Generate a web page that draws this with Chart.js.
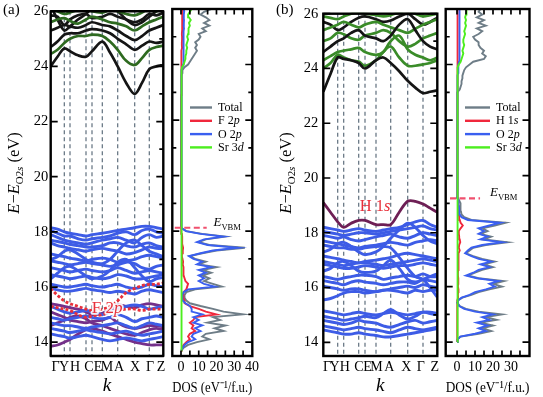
<!DOCTYPE html>
<html><head><meta charset="utf-8">
<script src="https://cdn.jsdelivr.net/npm/chart.js@4.4.0/dist/chart.umd.min.js"></script>
<style>
html,body{margin:0;padding:0;background:#fff;}
#wrap{position:relative;width:543px;height:397px;overflow:hidden;background:#fff;}
canvas{position:absolute;left:0;top:0;}
</style></head><body>
<div id="wrap">
<canvas id="bandA" width="543" height="397"></canvas>
<canvas id="dosA" width="543" height="397"></canvas>
<canvas id="bandB" width="543" height="397"></canvas>
<canvas id="dosB" width="543" height="397"></canvas>
</div>
<script>
// ---------- k-path ----------
const symLabels = ['Γ','Y','H','C','E','M','A','X','Γ','Z'];
const kSymA = [0,13.6,19.3,35.3,41.3,51.6,67,84,98.6,112.6];
const kLabA = [4.8,13.3,24.3,38.3,47.3,56.3,68.3,84.3,99.3,110.3];
const kGridA = [0,6.8,13.6,19.3,27.3,35.3,41.3,51.6,59.3,67,75.5,84,91.3,98.6,105.6,112.6];
const kSymB = [0,14.4,20.4,35.4,41.7,52.7,67.4,84.4,99.7,114];
const kLabB = [3.7,11.2,21.4,35.7,44.2,53.2,65.9,83,97.4,111.4];
const kGridB = [0,7.2,14.4,20.4,27.9,35.4,41.7,52.7,60,67.4,75.9,84.4,92,99.7,106.8,114];
const eTicks = [14,15,16,17,18,19,20,21,22,23,24,25,26];
const eLabels = [14,16,18,20,22,24,26];

// ---------- panel (a) bands ----------
const valA = [
 [18.15,18.1,18.0,17.95,17.9,17.85,17.9,17.95,18.0,18.05,18.1,18.15,18.2,18.2,18.15,18.1],
 [18.05,17.95,17.85,17.85,17.75,17.7,17.75,17.8,17.85,17.95,18.0,17.9,18.05,18.1,18.0,17.95],
 [17.9,17.8,17.7,17.65,17.6,17.55,17.6,17.7,17.75,17.8,17.7,17.6,17.8,17.9,17.8,17.85],
 [17.7,17.65,17.6,17.55,17.5,17.45,17.45,17.5,17.6,17.6,17.5,17.45,17.55,17.6,17.5,17.45],
 [17.6,17.5,17.45,17.4,17.35,17.3,17.35,17.4,17.35,17.3,17.2,17.25,17.35,17.45,17.4,17.4],
 [17.2,17.15,17.1,17.05,17.0,16.95,17.0,17.05,17.0,16.9,16.95,17.0,17.1,17.15,17.1,17.05],
 [16.95,16.9,16.85,16.8,16.85,16.9,16.85,16.8,16.75,16.8,16.9,16.85,16.7,16.65,16.75,16.8],
 [16.7,16.65,16.6,16.55,16.6,16.65,16.6,16.55,16.6,16.7,16.6,16.5,16.55,16.6,16.55,16.5],
 [16.45,16.4,16.35,16.3,16.35,16.4,16.35,16.3,16.35,16.45,16.4,16.3,16.3,16.35,16.4,16.45],
 [16.1,16.05,16.0,16.0,16.05,16.1,16.05,16.0,16.05,16.1,16.0,15.95,16.0,16.1,16.05,16.0],
 [15.95,15.9,15.85,15.85,15.9,15.95,15.9,15.85,15.8,15.85,15.8,15.75,15.85,15.9,15.85,15.8],
 [15.3,15.2,15.1,15.05,15.1,15.15,15.1,15.0,15.1,15.2,15.3,15.35,15.3,15.2,15.25,15.3],
 [14.9,14.85,14.8,14.85,14.9,14.95,14.9,14.85,14.9,15.0,14.9,14.75,14.85,14.9,14.95,14.9],
 [14.7,14.65,14.6,14.6,14.55,14.5,14.55,14.6,14.65,14.7,14.6,14.5,14.6,14.7,14.65,14.6],
 [14.5,14.45,14.4,14.35,14.4,14.45,14.4,14.35,14.3,14.35,14.4,14.3,14.25,14.3,14.35,14.4],
 [14.3,14.25,14.2,14.15,14.2,14.25,14.2,14.1,14.05,14.1,14.15,14.1,14.05,14.1,14.15,14.2],
 [17.0,17.1,17.3,17.35,17.2,17.0,16.9,16.85,17.0,17.3,17.6,17.7,17.5,17.3,17.2,17.1],
 [16.3,16.5,16.7,16.75,16.6,16.4,16.3,16.4,16.6,16.9,17.0,16.7,16.4,16.2,16.3,16.35]
];
const fDashA = [
 [15.95,15.7,15.5,15.4,15.3,15.2,15.15,15.2,15.3,15.5,15.8,15.95,16.05,16.1,16.1,16.15],
 [15.3,15.25,15.2,15.15,15.0,14.9,14.95,15.0,15.1,15.15,15.2,15.2,15.15,15.2,15.2,15.2]
];
const fMixA = [
 [15.1,15.0,14.9,14.8,14.75,14.7,14.75,14.8,14.9,14.7,14.55,14.5,14.55,14.6,14.6,14.55],
 [13.85,13.9,14.0,14.1,14.3,14.45,14.5,14.4,14.3,14.2,14.1,14.0,13.95,13.9,13.9,13.9],
 [15.4,15.35,15.3,15.25,15.2,15.1,15.0,15.05,15.2,15.35,15.3,15.25,15.35,15.4,15.35,15.3],
 [14.6,14.7,14.8,14.9,14.95,14.85,14.7,14.6,14.5,14.4,14.3,14.25,14.35,14.45,14.5,14.45]
];
const condA = [
 [24.0,24.35,24.65,24.55,24.4,24.35,24.55,24.9,24.5,24.0,23.4,23.0,23.4,23.9,24.0,24.05],
 [24.45,24.6,24.85,25.0,25.1,25.1,25.15,25.1,24.9,24.6,24.2,24.05,24.3,24.6,24.7,24.75],
 [24.7,24.9,25.15,25.2,25.2,25.3,25.35,25.3,25.2,25.0,24.8,24.6,24.75,24.9,24.85,24.9],
 [25.3,25.4,25.5,25.45,25.4,25.5,25.6,25.5,25.45,25.3,25.1,24.95,25.1,25.3,25.4,25.5],
 [25.6,25.7,25.75,25.65,25.55,25.7,25.8,25.7,25.6,25.55,25.45,25.3,25.45,25.6,25.7,25.8],
 [25.85,25.8,25.5,25.7,25.85,25.9,25.75,25.8,25.9,25.8,25.7,25.6,25.7,25.9,25.85,25.95],
 [26.1,26.0,25.9,25.95,26.05,26.1,26.0,25.95,26.05,26.0,25.9,25.85,25.95,26.1,26.0,26.1],
 [26.2,25.7,25.3,25.45,25.7,25.9,26.1,26.3,26.2,26.0,25.7,25.5,25.6,25.8,26.0,26.2]
];
const condAKind = ['k','g','k','k','g','k','g','k'];

// ---------- panel (b) bands ----------
const valB = [
 [18.2,18.15,18.1,18.05,18.1,18.15,18.1,18.05,18.1,18.15,18.2,18.3,18.4,18.45,18.3,18.2],
 [18.05,18.0,17.95,17.9,17.95,18.0,18.0,17.95,18.0,18.05,18.1,18.15,18.2,18.25,18.15,18.1],
 [17.9,17.85,17.8,17.85,17.75,17.7,17.75,17.85,17.9,17.95,17.85,17.8,17.9,18.0,17.95,17.9],
 [17.7,17.65,17.6,17.55,17.5,17.45,17.5,17.55,17.6,17.65,17.6,17.55,17.65,17.7,17.75,17.7],
 [17.55,17.5,17.45,17.45,17.4,17.4,17.45,17.5,17.5,17.45,17.1,16.7,16.4,16.3,16.0,15.65],
 [17.15,17.1,17.05,17.0,16.95,16.9,16.95,17.0,17.05,17.1,17.2,17.25,17.2,17.15,17.1,17.05],
 [16.95,16.9,16.85,16.8,16.85,16.9,16.9,16.85,16.8,16.85,16.9,16.95,17.0,17.05,17.0,16.95],
 [16.85,16.8,16.75,16.7,16.7,16.75,16.8,16.75,16.7,16.75,16.8,16.8,16.85,16.9,16.85,16.8],
 [16.4,16.35,16.3,16.35,16.4,16.45,16.45,16.4,16.3,16.35,16.4,16.45,16.4,16.5,16.4,16.4],
 [16.25,16.2,16.15,16.1,16.2,16.25,16.2,16.15,16.1,16.15,16.2,16.2,16.15,16.3,16.25,16.2],
 [16.05,16.0,15.95,15.9,15.95,15.95,15.9,15.85,15.9,15.95,16.0,16.05,16.0,16.1,16.05,16.0],
 [15.55,15.6,15.7,15.8,15.85,15.85,15.8,15.85,15.9,15.9,15.85,15.8,15.9,15.85,15.9,15.9],
 [15.15,15.1,15.05,15.0,15.05,15.1,15.05,15.0,15.05,15.1,15.05,15.0,15.05,15.1,15.1,15.05],
 [14.95,14.9,14.85,14.8,14.85,14.9,14.95,14.9,15.05,15.2,15.0,14.85,14.95,15.1,15.05,15.0],
 [14.8,14.75,14.7,14.65,14.7,14.8,14.75,14.7,14.6,14.55,14.65,14.75,14.8,14.7,14.75,14.8],
 [14.6,14.55,14.5,14.45,14.5,14.55,14.5,14.45,14.4,14.35,14.45,14.55,14.5,14.45,14.5,14.55],
 [14.45,14.4,14.35,14.3,14.3,14.35,14.3,14.25,14.2,14.2,14.25,14.3,14.35,14.4,14.45,14.5],
 [17.3,17.4,17.6,17.65,17.5,17.3,17.2,17.3,17.5,17.8,18.1,18.35,18.2,17.9,17.7,17.6],
 [16.6,16.7,16.9,16.95,16.8,16.6,16.55,16.6,16.8,17.0,16.7,16.3,16.2,16.3,16.4,16.5]
];
const hBandB = [19.1,18.75,18.4,18.2,18.35,18.45,18.45,18.3,18.3,18.3,18.75,19.15,19.15,19.05,18.9,18.75];
const condB = [
 [23.15,23.8,24.4,24.35,24.3,24.2,24.0,24.3,24.4,24.2,23.9,23.55,23.3,23.1,23.15,23.2],
 [24.0,24.2,24.5,24.4,24.3,24.25,24.1,24.3,24.6,24.8,24.4,24.1,24.1,24.15,24.2,24.3],
 [24.3,24.45,24.6,24.65,24.7,24.75,24.6,24.5,24.6,25.0,25.2,24.7,24.5,24.4,24.3,24.4],
 [24.6,24.8,25.0,25.1,25.3,25.4,25.2,25.1,25.0,25.2,25.6,25.8,25.4,25.0,24.8,24.7],
 [25.0,25.1,25.3,25.25,25.1,25.05,25.2,25.3,25.4,25.3,25.0,24.8,24.9,25.1,25.2,25.3],
 [25.4,25.5,25.6,25.7,25.6,25.5,25.6,25.7,25.6,25.5,25.4,25.3,25.45,25.6,25.7,25.8],
 [25.7,25.6,25.4,25.5,25.7,25.85,25.9,25.8,25.7,25.75,25.9,26.0,25.8,25.6,25.7,25.85],
 [25.9,25.85,25.8,25.9,26.0,26.05,26.0,25.95,25.9,25.95,26.05,26.1,26.0,25.9,25.95,26.0]
];
const condBKind = ['k','g','g','k','g','g','k','g'];

// ---------- DOS (a) ----------
const dosEA = [13.7,13.8,13.9,14.0,14.1,14.2,14.3,14.4,14.5,14.6,
 14.7,14.8,14.9,15.0,15.1,15.2,15.3,15.4,15.5,15.6,
 15.7,15.8,15.9,16.0,16.1,16.2,16.3,16.4,16.5,16.6,
 16.7,16.8,16.9,17.0,17.1,17.2,17.3,17.4,17.5,17.6,
 17.7,17.8,17.9,18.0,18.1,18.2,18.3,
 18.4,22.8,
 22.9,23.0,23.1,23.2,23.3,23.4,23.5,23.6,23.7,23.8,
 23.9,24.0,24.1,24.2,24.3,24.4,24.5,24.6,24.7,24.8,
 24.9,25.0,25.1,25.2,25.3,25.4,25.5,25.6,25.7,25.8,
 25.9,26.0];
const totalA = [0.3,1.5,4,9,16,12,14,24,19,25,
 15,22,18,35,24,18,11,5,3,2,
 2,3,8,23,18,13,16,12,17,12,
 20,10,14,8,5,12,20,36,16,10,
 14,25,12,3,0.5,0.2,0.1,
 0.1,0.1,
 0.2,0.4,0.4,0.4,0.4,0.5,0.5,0.5,0.6,0.8,
 2,4,5,6,7,8,9,8,9,8,
 10,11,10,14,12,16,13,16,14,11,
 13,17];
const o2pA = [0.2,1,2,4,8,6,7,11,8,12,
 7,10,7,12,6,6,5,2.5,1,0.8,
 0.8,1.5,4,19,13,10,13,10,14,10,
 17,9,12,7,4.5,11,18,32,15,9,
 13,24,11,2.8,0.4,0.1,0.1,
 0.05,0.05,
 0.2,0.3,0.3,0.3,0.3,0.3,0.4,0.4,0.4,0.5,
 0.8,1.2,1.3,1.4,1.3,1.5,1.4,1.5,1.4,1.6,
 1.5,1.4,1.6,1.5,1.7,1.5,1.6,1.7,1.5,1.6,
 1.8,1.7];
const f2pA = [0.1,0.5,1.5,3,5,4,5,8,6,7,
 5,7,8,20,14,10,5,2,2,1.2,
 1.2,1.5,3,3.5,4,2.5,2,1.5,1.5,1.2,
 1.5,1,1.2,0.8,0.5,0.6,1,1.2,0.8,0.6,
 0.6,0.8,0.5,0.2,0.1,0,0,
 0,0,
 0.1,0.1,0.1,0.1,0.1,0.1,0.1,0.1,0.1,0.1,
 0.2,0.4,0.4,0.5,0.4,0.5,0.5,0.6,0.5,0.5,
 0.6,0.6,0.5,0.6,0.7,0.6,0.6,0.7,0.6,0.7,
 0.7,0.8];
const sr3dA = [0.3,0.3,0.3,0.3,0.3,0.3,0.3,0.3,0.3,0.3,
 0.3,0.3,0.3,0.3,0.3,0.3,0.3,0.3,0.3,0.3,
 0.3,0.3,0.3,0.3,0.3,0.3,0.3,0.3,0.3,0.3,
 0.3,0.3,0.3,0.3,0.3,0.3,0.3,0.3,0.3,0.3,
 0.3,0.3,0.3,0.3,0.3,0.3,0.3,
 0.3,0.3,
 0.3,0.3,0.3,0.3,0.3,0.3,0.3,0.4,0.4,0.4,
 0.6,1.5,2,2.5,2.5,3,3,3.5,3,3.5,
 4,3.5,4,4.5,4,5,4.5,5.5,4.5,4,
 5,6];
const vbmA = 18.12;

// ---------- DOS (b) ----------
const dosEB = [14.0,14.1,14.2,14.3,14.4,14.5,14.6,14.7,14.8,14.9,
 15.0,15.1,15.2,15.3,15.4,15.5,15.6,15.7,15.8,15.9,
 16.0,16.1,16.2,16.3,16.4,16.5,16.6,16.7,16.8,16.9,
 17.0,17.1,17.2,17.3,17.4,17.5,17.6,17.7,17.8,17.9,
 18.0,18.1,18.2,18.3,18.4,18.5,18.6,18.7,18.8,18.9,
 19.0,19.1,19.2,19.3,
 19.4,22.9,
 23.0,23.1,23.2,23.3,23.4,23.5,23.6,23.7,23.8,23.9,
 24.0,24.1,24.2,24.3,24.4,24.5,24.6,24.7,24.8,24.9,
 25.0,25.1,25.2,25.3,25.4,25.5,25.6,25.7,25.8,25.9,
 26.0];
const totalB = [0.1,0.3,2,12,19,14,20,13,22,16,
 25,12,5,1.5,0.4,0.5,3,8,12,18,
 25,20,26,12,6,10,14,20,15,21,
 14,9,5,7,9,16,28,15,19,13,
 17,14,21,27,8,4,2.5,2.2,2,2,
 1.8,1.2,0.4,0.1,
 0.1,0.1,
 0.3,1.5,2,2.5,2.5,3,3,3.5,4,5,
 7,9,15,16,14,15,13,12,12,10,
 9,12,14,11,16,12,15,11,14,12,
 13];
const o2pB = [0.1,0.3,1.8,10,16,12,17,11,18,14,
 20,10,4,1.2,0.3,0.4,2.5,7,10,16,
 21,18,23,11,5,9,12,18,13,19,
 12,8,4.5,6,8,14,25,13,17,12,
 15,12,18,24,6,2.5,1.5,1.2,1.2,1,
 1,0.6,0.2,0,
 0,0,
 0.1,0.3,0.4,0.4,0.5,0.5,0.5,0.6,0.6,0.7,
 0.9,1.1,1.4,1.5,1.3,1.4,1.3,1.2,1.3,1.2,
 1.1,1.3,1.5,1.3,1.6,1.4,1.5,1.3,1.6,1.4,
 1.5];
const h1sB = [0.1,0.1,0.1,0.1,0.1,0.1,0.1,0.1,0.1,0.1,
 0.1,0.1,0.1,0.1,0.1,0.5,0.6,0.5,0.6,0.8,
 0.5,0.6,0.8,0.6,0.5,0.5,0.6,0.8,0.6,1.0,
 1.0,0.8,0.7,1.5,1.0,1.2,1.8,1.5,1.2,1.0,
 1.0,2.0,3.2,2.0,1.5,1.2,1.0,1.0,1.2,1.0,
 0.8,0.6,0.2,0,
 0,0,
 0,0.1,0.1,0.1,0.1,0.1,0.2,0.2,0.2,0.2,
 0.3,0.3,0.4,0.4,0.4,0.4,0.4,0.4,0.4,0.4,
 0.4,0.4,0.5,0.4,0.5,0.4,0.5,0.4,0.5,0.5,
 0.5];
const sr3dB = [0.3,0.3,0.3,0.3,0.3,0.3,0.3,0.3,0.3,0.3,
 0.3,0.3,0.3,0.3,0.3,0.3,0.3,0.3,0.3,0.3,
 0.3,0.3,0.3,0.3,0.3,0.3,0.3,0.3,0.3,0.3,
 0.3,0.3,0.3,0.3,0.3,0.3,0.3,0.3,0.3,0.3,
 0.3,0.3,0.3,0.3,0.3,0.3,0.3,0.3,0.3,0.3,
 0.3,0.3,0.3,0.3,
 0.3,0.3,
 0.3,0.3,0.3,0.3,0.3,0.3,0.3,0.4,0.5,0.5,
 1,2,2.5,3,3.5,3,3.5,4,3.5,3.5,
 4,4.5,4,4.5,5,4.5,5,4.5,5,5.5,
 5];
const vbmB = 19.18;

const dosTicksA = [0,10,20,30,40];
const dosTicksB = [0,10,20,30];
const dosMarks = [0,5,10,15,20,25,30,35,40];
const legendA = ['Total','F 2p','O 2p','Sr 3d'];
const legendB = ['Total','H 1s','O 2p','Sr 3d'];

// ---------- styles ----------
const SERIF = "'Liberation Serif','Times New Roman',serif";
const C = { blue:'#3d5ce6', purple:'#74308a', red:'#e8303a', black:'#151515', greenA:'#2e6a20', greenB:'#3a8c29', hband:'#6e1f55',
  dTotal:'#6e7d87', dRed:'#f0283c', dBlue:'#3a5ff0', dGreen:'#4cee1e', vbm:'#f0506e', dash:'#5f6f7d' };

function fnt(size, italic) { return (italic ? 'italic ' : '') + size + 'px ' + SERIF; }
function labelSegs(s) { const m = s.match(/^(.*\d)([a-z])$/); return m ? [[m[1], ''], [m[2], 'i']] : [[s, '']]; }
function drawRich(ctx, segs, x, y, size, align, stroke) {
  let w = 0;
  const parts = segs.map(([t, f]) => {
    f = f || '';
    const sub = f.includes('b'), sup = f.includes('p');
    const s = (sub || sup) ? size * 0.66 : size;
    const font = fnt(s, f.includes('i'));
    ctx.font = font;
    const mw = ctx.measureText(t).width;
    w += mw;
    return { t, font, mw, dy: sub ? size * 0.3 : sup ? -size * 0.4 : 0 };
  });
  let cx = align === 'center' ? x - w / 2 : align === 'right' ? x - w : x;
  ctx.textAlign = 'left';
  parts.forEach(p => { ctx.font = p.font; if (stroke) ctx.strokeText(p.t, cx, y + p.dy); else ctx.fillText(p.t, cx, y + p.dy); cx += p.mw; });
  return w;
}
function drawFrame(ctx, a, x, y, leftMinor, xMarks) {
  ctx.save();
  ctx.setLineDash([]); ctx.strokeStyle = '#000';
  ctx.lineWidth = 1.7; ctx.beginPath();
  eTicks.forEach(v => {
    const p = y.getPixelForValue(v); const major = v % 2 === 0; const L = major ? 7 : 4;
    if (major || leftMinor) { ctx.moveTo(a.left, p); ctx.lineTo(a.left + L, p); }
    ctx.moveTo(a.right, p); ctx.lineTo(a.right - L, p);
  });
  if (xMarks) xMarks.forEach(v => {
    const p = x.getPixelForValue(v); if (p < a.left + 2 || p > a.right - 2) return;
    ctx.moveTo(p, a.top); ctx.lineTo(p, a.top + 5.5); ctx.moveTo(p, a.bottom); ctx.lineTo(p, a.bottom - 5.5);
  });
  ctx.stroke();
  ctx.lineWidth = 2.4; ctx.strokeRect(a.left, a.top, a.right - a.left, a.bottom - a.top);
  ctx.restore();
}

function bandSets(kGrid, bands, color, width, dash) {
  return bands.map(b => ({ data: b.map((e, i) => ({ x: kGrid[i], y: e })), borderColor: color, borderWidth: width,
    borderDash: dash || [], pointRadius: 0, tension: 0.35, fill: false, clip: 1 }));
}
function dosSet(E, vals, color, width, dash) {
  return { data: vals.map((v, i) => ({ x: v, y: E[i] })), borderColor: color, borderWidth: width, borderDash: dash || [],
    pointRadius: 0, tension: 0, fill: false, clip: 1 };
}

function makeBandPlugin(cfg) {
  return {
    id: 'bandDeco',
    beforeDatasetsDraw(chart) {
      const { ctx, chartArea: a, scales: { x } } = chart;
      ctx.save(); ctx.strokeStyle = C.dash; ctx.lineWidth = 1.2; ctx.setLineDash([4, 3]);
      cfg.sym.forEach((k, i) => {
        if (i === 0 || i === cfg.sym.length - 1) return;
        const px = x.getPixelForValue(k);
        ctx.beginPath(); ctx.moveTo(px, a.top); ctx.lineTo(px, a.bottom); ctx.stroke();
      });
      ctx.restore();
    },
    afterDatasetsDraw(chart) {
      const { ctx, chartArea: a, scales: { x, y } } = chart;
      ctx.save();
      ctx.textBaseline = 'alphabetic';
      const nx = x.getPixelForValue(cfg.noteK), ny = y.getPixelForValue(cfg.noteE);
      const segs = labelSegs(cfg.note);
      if (cfg.halo) { ctx.strokeStyle = 'rgba(255,255,255,0.9)'; ctx.lineWidth = 3.5; ctx.lineJoin = 'round'; drawRich(ctx, segs, nx, ny, cfg.noteSize, 'center', true); }
      ctx.fillStyle = C.red; drawRich(ctx, segs, nx, ny, cfg.noteSize, 'center');
      drawFrame(ctx, a, x, y, false, null);
      ctx.fillStyle = '#000'; ctx.font = fnt(15); ctx.textAlign = 'left'; ctx.fillText(cfg.panel, cfg.panelX, 14);
      ctx.translate(cfg.titleX, 173); ctx.rotate(-Math.PI / 2); ctx.textBaseline = 'middle';
      drawRich(ctx, [['E', 'i'], ['−', ''], ['E', 'i'], ['O2', 'b'], ['s', 'bi'], [' (eV)', '']], 0, 0, 16.5, 'center');
      ctx.restore();
    }
  };
}
function makeDosPlugin(cfg) {
  return {
    id: 'dosDeco',
    afterDatasetsDraw(chart) {
      const { ctx, chartArea: a, scales: { x, y } } = chart;
      ctx.save();
      drawFrame(ctx, a, x, y, true, dosMarks);
      ctx.fillStyle = '#000'; ctx.textBaseline = 'alphabetic';
      drawRich(ctx, [['E', 'i'], ['VBM', 'b']], x.getPixelForValue(18.3), y.getPixelForValue(cfg.vbm) - 2, 13, 'left');
      cfg.legend.forEach((lab, i) => {
        const ly = a.top + 98.5 + i * 13.3;
        ctx.strokeStyle = cfg.colors[i]; ctx.lineWidth = 2.4; ctx.setLineDash([]);
        ctx.beginPath(); ctx.moveTo(a.left + cfg.lx0, ly); ctx.lineTo(a.left + cfg.lx1, ly); ctx.stroke();
        ctx.fillStyle = '#000'; ctx.textBaseline = 'middle';
        drawRich(ctx, labelSegs(lab), a.left + cfg.lx1 + 6, ly + 0.5, 12, 'left');
      });
      ctx.restore();
    }
  };
}

const common = { responsive: false, animation: false, devicePixelRatio: 1, events: [],
  plugins: { legend: { display: false }, tooltip: { enabled: false } } };

function bandChart(id, pad, yW, yPad, kMax, kLab, sym, datasets, cfg) {
  new Chart(document.getElementById(id), {
    type: 'line', data: { datasets },
    options: Object.assign({}, common, {
      layout: { padding: pad },
      scales: {
        x: { type: 'linear', min: 0, max: kMax, afterFit: s => { s.height = 41; },
          afterBuildTicks: s => { s.ticks = kLab.map(v => ({ value: v })); },
          ticks: { autoSkip: false, maxRotation: 0, padding: 3, color: '#000', font: { family: SERIF, size: 14 },
            callback: (v, i) => symLabels[i] },
          grid: { display: false, drawTicks: false }, border: { display: false },
          title: { display: true, text: 'k', color: '#000', font: { family: SERIF, size: 19, style: 'italic' }, padding: { top: 0, bottom: 0 } } },
        y: { type: 'linear', min: 13.5, max: 26, afterFit: s => { s.width = yW; },
          afterBuildTicks: s => { s.ticks = eLabels.map(v => ({ value: v })); },
          ticks: { padding: yPad, color: '#000', font: { family: SERIF, size: 14.5 } },
          grid: { display: false, drawTicks: false }, border: { display: false } }
      }
    }),
    plugins: [makeBandPlugin(Object.assign({ sym }, cfg))]
  });
}
function dosChart(id, pad, xmin, xmax, ticks, datasets, cfg) {
  new Chart(document.getElementById(id), {
    type: 'line', data: { datasets },
    options: Object.assign({}, common, {
      layout: { padding: pad },
      scales: {
        x: { type: 'linear', min: xmin, max: xmax, afterFit: s => { s.height = 41; },
          afterBuildTicks: s => { s.ticks = ticks.map(v => ({ value: v })); },
          ticks: { autoSkip: false, maxRotation: 0, padding: 3, color: '#000', font: { family: SERIF, size: 14 } },
          grid: { display: false, drawTicks: false }, border: { display: false },
          title: { display: true, text: 'DOS (eV⁻¹/f.u.)', color: '#000', font: { family: SERIF, size: 15.5 }, padding: { top: 0, bottom: 0 } } },
        y: { type: 'linear', display: false, min: 13.5, max: 26 }
      }
    }),
    plugins: [makeDosPlugin(cfg)]
  });
}

// ---------- panel (a) ----------
bandChart('bandA', { left: 0, right: 379.7, top: 9, bottom: 0 }, 50.7, 2.5, 112.6, kLabA, kSymA,
  [].concat(
    bandSets(kGridA, fDashA, C.red, 2.8, [3, 2]),
    bandSets(kGridA, valA, C.blue, 2.9),
    bandSets(kGridA, fMixA, C.purple, 2.8),
    condA.map((b, i) => bandSets(kGridA, [b], condAKind[i] === 'g' ? C.greenA : C.black, 2.7)[0])
  ),
  { note: 'F 2p', noteK: 56.5, noteE: 15.05, noteSize: 17, halo: true, panel: '(a)', panelX: 3, titleX: 15 });

dosChart('dosA', { left: 172.3, right: 290.7, top: 9, bottom: 0 }, -4.9, 40.2, dosTicksA, [
  dosSet([vbmA, vbmA], [-3.5, 14.5], C.vbm, 2.2, [6, 3.5]),
  dosSet(dosEA, sr3dA, C.dGreen, 1.9),
  dosSet(dosEA, o2pA, C.dBlue, 1.9),
  dosSet(dosEA, f2pA, C.dRed, 1.9),
  dosSet(dosEA, totalA, C.dTotal, 1.9)
], { vbm: vbmA, legend: legendA, colors: [C.dTotal, C.dRed, C.dBlue, C.dGreen], lx0: 17.7, lx1: 39.7 });

// ---------- panel (b) ----------
bandChart('bandB', { left: 273.3, right: 105.7, top: 9, bottom: 0 }, 50, 5, 114, kLabB, kSymB,
  [].concat(
    bandSets(kGridB, [hBandB], C.hband, 2.8),
    bandSets(kGridB, valB, C.blue, 2.9),
    condB.map((b, i) => bandSets(kGridB, [b], condBKind[i] === 'g' ? C.greenB : C.black, 2.7)[0])
  ),
  { note: 'H 1s', noteK: 51.7, noteE: 18.78, noteSize: 16.5, halo: false, panel: '(b)', panelX: 276, titleX: 287 });

dosChart('dosB', { left: 445.7, right: 13.5, top: 9, bottom: 0 }, -6.3, 40.3, dosTicksB, [
  dosSet([vbmB, vbmB], [-3.9, 12.8], C.vbm, 2.2, [6, 3.5]),
  dosSet(dosEB, sr3dB, C.dGreen, 1.9),
  dosSet(dosEB, o2pB, C.dBlue, 1.9),
  dosSet(dosEB, h1sB, C.dRed, 1.9),
  dosSet(dosEB, totalB, C.dTotal, 1.9)
], { vbm: vbmB, legend: legendB, colors: [C.dTotal, C.dRed, C.dBlue, C.dGreen], lx0: 19.3, lx1: 44.3 });
</script>
</body></html>
